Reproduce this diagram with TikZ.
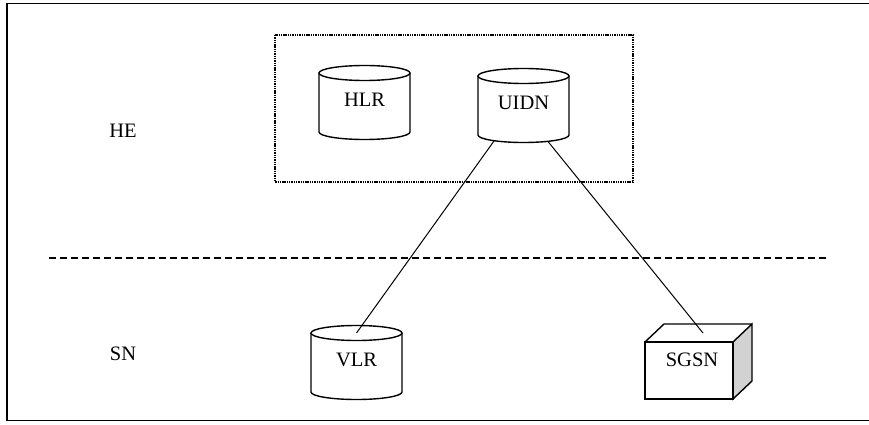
\documentclass[tikz,border=0pt]{standalone}
\usepackage{fontspec}
\setmainfont{Liberation Serif}
\usetikzlibrary{calc}
\tikzset{
  lbl/.style={font=\fontsize{20.5}{24}\selectfont, inner sep=0pt},
  cylline/.style={line width=1.4pt},
  conn/.style={line width=1pt},
  frameline/.style={line width=1.7pt},
  sepline/.style={line width=1.2pt, dash pattern=on 7pt off 4pt},
  groupbox/.style={line width=1.6pt, dash pattern=on 1.4pt off 0.9pt},
  sideface/.style={fill=gray!35},
}
\newcommand\dbcyl[5]{%
  \coordinate (#1-top) at (#2,#3);
  \coordinate (#1-bot) at (#2,#3-59);
  \draw[cylline] (#1-top) ellipse[x radius=45.5pt, y radius=7.5pt];
  \draw[cylline] ($(#1-top)+(-45.5,0)$) -- ($(#1-bot)+(-45.5,0)$)
     arc[start angle=180, end angle=360, x radius=45.5pt, y radius=7.5pt]
     -- ($(#1-top)+(45.5,0)$);
  \node[lbl] (#1) at (#2,#5) {#4};
}
\begin{document}
\begin{tikzpicture}[x=1pt,y=1pt]
\useasboundingbox (0,0) rectangle (869,424);
% outer frame (right side lies outside the picture)
\draw[frameline] (880,420.5) -- (7,420.5) -- (7,3.5) -- (880,3.5);
% separator
\coordinate (sepL) at (49,166);
\coordinate (sepR) at (828,166);
\draw[sepline] (sepL) -- (sepR);
% region labels
\node[lbl] (he) at (123,293) {HE};
\node[lbl] (sn) at (123,70) {SN};
% home environment group
\coordinate (gbA) at (275,389);
\coordinate (gbB) at (633,242);
\draw[groupbox] (gbA) rectangle (gbB);
% databases
\dbcyl{hlr}{364.5}{351}{HLR}{324}
\dbcyl{uidn}{523.5}{348}{UIDN}{321}
\dbcyl{vlr}{356.5}{91}{VLR}{64}
% SGSN box
\coordinate (sgA) at (645,25);
\coordinate (sgB) at (733,25);
\coordinate (sgC) at (733,82);
\coordinate (sgD) at (645,82);
\coordinate (sgE) at (664,100);
\coordinate (sgF) at (752,100);
\coordinate (sgG) at (752,43);
\draw[cylline, sideface] (sgB) -- (sgG) -- (sgF) -- (sgC) -- cycle;
\draw[cylline] (sgA) rectangle (sgC);
\draw[cylline] (sgD) -- (sgE) -- (sgF);
\node[lbl] (sgsn) at (692,64) {SGSN};
\coordinate (sgsn-top) at (703,91);
% connectors
\coordinate (u1) at ($(uidn-bot)+(-29.5,-6)$);
\coordinate (u2) at ($(uidn-bot)+(24.5,-6.5)$);
\draw[conn] (u1) -- (vlr-top);
\draw[conn] (u2) -- (sgsn-top);
\end{tikzpicture}
\end{document}
